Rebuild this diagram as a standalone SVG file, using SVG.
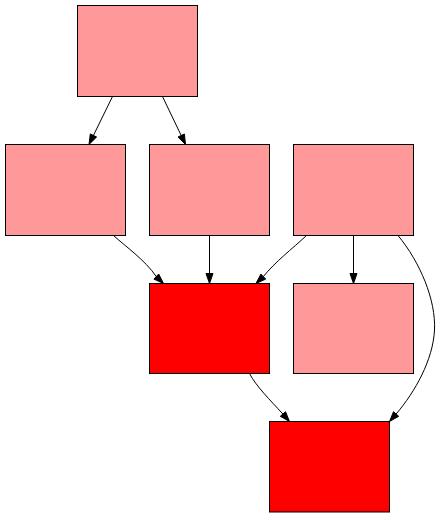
<svg xmlns="http://www.w3.org/2000/svg" width="445" height="517" viewBox="0 0 445 517">
<style>
.n rect{stroke:#000;stroke-width:1}
.p rect{fill:#ff9999}
.r rect{fill:#ff0000}
.e path{fill:none;stroke:#000;stroke-width:1}
.e polygon{fill:#000;stroke:#000;stroke-width:1}
</style>
<rect width="445" height="517" fill="#fff"/>
<g id="n1" class="n p"><rect x="77.5" y="5.5" width="120" height="91"/></g>
<g id="n2" class="n p"><rect x="5.5" y="144.5" width="120" height="91"/></g>
<g id="n3" class="n p"><rect x="149.5" y="144.5" width="120" height="91"/></g>
<g id="n4" class="n p"><rect x="293.5" y="144.5" width="120" height="91"/></g>
<g id="n5" class="n r"><rect x="149.5" y="283.5" width="120" height="90"/></g>
<g id="n6" class="n p"><rect x="293.5" y="283.5" width="120" height="90"/></g>
<g id="n7" class="n r"><rect x="269.5" y="421.5" width="120" height="90.5"/></g>
<g id="edges" class="e">
<path d="M112.5,96.5 L93.4,135.5"/><polygon points="96.6,137 89,144.5 90.3,133.9"/>
<path d="M162.5,96.5 L181.2,135.5"/><polygon points="184.4,134 185.5,144.5 178,137"/>
<path d="M113.5,235.5 C125,246 145,260 156.3,276.6"/><polygon points="158.7,274 163.5,283.5 153.9,279.1"/>
<path d="M209.5,235.5 L209.5,273.5"/><polygon points="206,273.5 209.5,283.5 213,273.5"/>
<path d="M306.5,235.5 C292,249 275,262 263.3,276.6"/><polygon points="265.7,279.1 256,283.5 260.9,274.1"/>
<path d="M353.5,235.5 L353.5,273.5"/><polygon points="350,273.5 353.5,283.5 357,273.5"/>
<path d="M249.5,373.5 C256,386 270,400 282.9,414"/><polygon points="285.5,411.7 289.5,421.5 280.3,416.3"/>
<path d="M398,235.5 C420,262 436,300 434.5,330 C433,360 415,392 396.1,414"/><polygon points="398.7,416.3 389.5,421.5 393.5,411.7"/>
</g>
</svg>
